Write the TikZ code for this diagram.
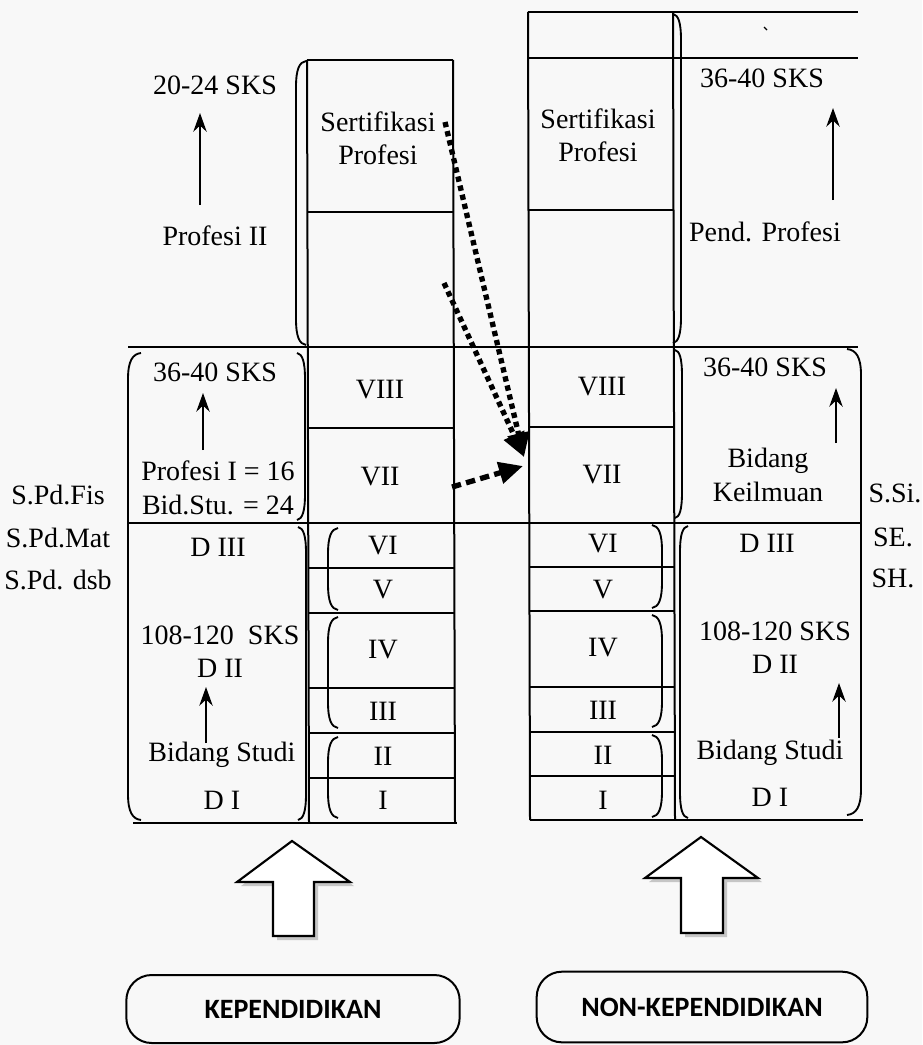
\documentclass[tikz,border=0pt]{standalone}
\usepackage{fontspec}
\setmainfont{Liberation Serif}
\newfontfamily\boxfont{Carlito}
\usetikzlibrary{arrows.meta}
\definecolor{bgc}{RGB}{248,248,248}
\newcommand\myparen[4]{\draw[brk] (#2,#3) .. controls ({#1+(#2-#1)*0.35},{#3+1}) and (#1,{#3+8}) .. (#1,{#3+26}) -- (#1,{#4-26}) .. controls (#1,{#4-8}) and ({#1+(#2-#1)*0.35},{#4-1}) .. (#2,#4);}
\begin{document}
\begin{tikzpicture}[x=0.75pt,y=-0.75pt,
  txt/.style={font=\fontsize{21}{25}\selectfont, align=center, inner sep=0pt},
  ln/.style={line width=1.5pt},
  brk/.style={line width=1.4pt},
  uparrow/.style={line width=1.8pt, -{Stealth[length=14pt,width=10pt]}},
  dotarrow/.style={line width=4pt, dash pattern=on 4pt off 3pt, -{Triangle[length=18pt,width=16pt]}},
  dasharrow/.style={line width=4pt, dash pattern=on 7pt off 4pt, -{Triangle[length=18pt,width=16pt]}},
  blockarrow/.style={line width=1.6pt, fill=white},
  pill/.style={draw, line width=1.5pt, rounded corners=19pt, inner sep=0pt, font=\boxfont\bfseries\fontsize{21}{24}\selectfont}
]
\useasboundingbox[fill=bgc] (0,0) rectangle (922,1045);

% ---------- Left column (Kependidikan) ----------
\draw[ln] (307,60) -- (453,60);
\draw[ln] (307,60) -- (309,823);
\draw[ln] (453,60) -- (455,823);
\draw[ln] (307,212) -- (453,212);
\draw[ln] (128,347) -- (858,347);
\draw[ln] (308,428) -- (454,428);
\draw[ln] (128,523) -- (860,523);
\foreach \yy in {568,613,688,733,778} \draw[ln] (309,\yy) -- (455,\yy);
\draw[ln] (133,823) -- (457,823);

\myparen{296}{306}{61}{345}
\myparen{128}{141}{353}{820}
\myparen{305}{297}{353}{520}
\myparen{306}{298}{527}{820}
\myparen{328}{338}{528}{610}
\myparen{328}{338}{617}{728}
\myparen{328}{338}{737}{818}

% ---------- Right column (Non-Kependidikan) ----------
\draw[ln] (528,12) -- (858,12);
\draw[ln] (528,58) -- (858,58);
\draw[ln] (528,12) -- (530,820);
\draw[ln] (673,12) -- (675,820);
\draw[ln] (528,210) -- (673,210);
\draw[ln] (529,427) -- (675,427);
\foreach \yy in {567,611,687,732,776} \draw[ln] (530,\yy) -- (675,\yy);
\draw[ln] (530,820) -- (863,820);

\myparen{681}{673}{14}{343}
\myparen{682}{675}{350}{518}
\myparen{680}{688}{526}{818}
\myparen{662}{652}{525}{608}
\myparen{662}{652}{615}{727}
\myparen{662}{652}{735}{817}
\myparen{861}{847}{349}{815}

\draw[line width=1pt] (764,27) -- (767,30);

% ---------- Left texts ----------
\node[txt] (sksA) at (215,85) {20-24 SKS};
\node[txt] (profII) at (215,236) {Profesi II};
\node[txt] (sertL) at (378,138) {Sertifikasi\\Profesi};
\node[txt] (sksB) at (215,372) {36-40 SKS};
\node[txt] (profI) at (218,488) {Profesi I = 16\\Bid.Stu. = 24};
\node[txt] (l8) at (380,390) {VIII};
\node[txt] (l7) at (380,477) {VII};
\node[txt] (ld3) at (218,547) {D III};
\node[txt] (lsks) at (220,652) {108-120\ \ SKS\\D II};
\node[txt] (lbs) at (222,755) {Bidang Studi};
\node[txt] (ld1) at (222,800) {D I};
\node[txt] (l6) at (383,546) {VI};
\node[txt] (l5) at (383,590) {V};
\node[txt] (l4) at (383,650) {IV};
\node[txt] (l3) at (383,711) {III};
\node[txt] (l2) at (383,756) {II};
\node[txt] (l1) at (383,800) {I};
\node[txt] (spdf) at (58,495) {S.Pd.Fis};
\node[txt] (spdm) at (58,538) {S.Pd.Mat};
\node[txt] (spdd) at (58,580) {S.Pd. dsb};

% ---------- Right texts ----------
\node[txt] (sertR) at (598,135) {Sertifikasi\\Profesi};
\node[txt] (rsksA) at (762,78) {36-40 SKS};
\node[txt] (pend) at (765,232) {Pend. Profesi};
\node[txt] (r8) at (602,387) {VIII};
\node[txt] (r7) at (602,475) {VII};
\node[txt] (rsksB) at (765,367) {36-40 SKS};
\node[txt] (bk) at (768,475) {Bidang\\Keilmuan};
\node[txt] (ssi) at (895,493) {S.Si.};
\node[txt] (se) at (893,537) {SE.};
\node[txt] (sh) at (893,578) {SH.};
\node[txt] (rd3) at (767,543) {D III};
\node[txt] (rsks) at (775,648) {108-120 SKS\\D II};
\node[txt] (rbs) at (770,753) {Bidang Studi};
\node[txt] (rd1) at (770,797) {D I};
\node[txt] (r6) at (603,544) {VI};
\node[txt] (r5) at (603,590) {V};
\node[txt] (r4) at (603,648) {IV};
\node[txt] (r3) at (603,710) {III};
\node[txt] (r2) at (603,755) {II};
\node[txt] (r1) at (603,800) {I};

% ---------- thin up arrows ----------
\coordinate (ua1s) at (200,205); \coordinate (ua1e) at (200,113);
\coordinate (ua2s) at (203,450); \coordinate (ua2e) at (203,393);
\coordinate (ua3s) at (206,743); \coordinate (ua3e) at (206,687);
\coordinate (ua4s) at (833,200); \coordinate (ua4e) at (833,108);
\coordinate (ua5s) at (836,443); \coordinate (ua5e) at (836,388);
\coordinate (ua6s) at (839,738); \coordinate (ua6e) at (839,683);
\foreach \i in {1,...,6} \draw[uparrow] (ua\i s) -- (ua\i e);

% ---------- dotted arrows ----------
\coordinate (d1s) at (445,122);
\coordinate (d2s) at (444,283);
\coordinate (d12e) at (524,457);
\coordinate (d3s) at (452,487);
\coordinate (d3e) at (523,466);
\draw[dotarrow] (d1s) -- (d12e);
\draw[dotarrow] (d2s) -- (d12e);
\draw[dasharrow] (d3s) -- (d3e);

% ---------- block arrows ----------
\fill[gray!45] (296,845) -- (354,886) -- (318,886) -- (318,940) -- (277,940) -- (277,886) -- (241,886) -- cycle;
\draw[blockarrow] (292,841) -- (350,882) -- (314,882) -- (314,936) -- (273,936) -- (273,882) -- (237,882) -- cycle;
\fill[gray!45] (705,841) -- (762,882) -- (727,882) -- (727,937) -- (685,937) -- (685,882) -- (649,882) -- cycle;
\draw[blockarrow] (701,837) -- (758,878) -- (723,878) -- (723,933) -- (681,933) -- (681,878) -- (645,878) -- cycle;

% ---------- bottom boxes ----------
\node[pill, minimum width=250pt, minimum height=51pt] (kep) at (293,1009) {KEPENDIDIKAN};
\node[pill, minimum width=248pt, minimum height=53pt] (nonkep) at (702,1007) {NON-KEPENDIDIKAN};
\end{tikzpicture}
\end{document}
